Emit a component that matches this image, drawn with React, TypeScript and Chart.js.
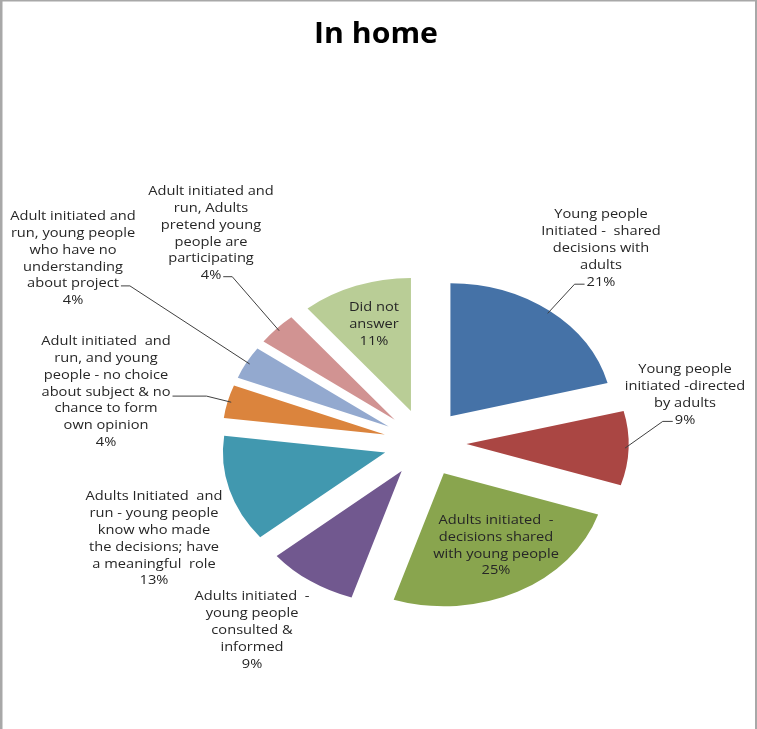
import React, { useEffect, useRef } from 'react';
import { Chart, registerables } from 'chart.js';

Chart.register(...registerables);

// ---- data ----
const title = 'In home';
const categories: string[][] = [
  ['Young people', 'Initiated -  shared', 'decisions with', 'adults'],
  ['Young people', 'initiated -directed', 'by adults'],
  ['Adults initiated  -', 'decisions shared', 'with young people'],
  ['Adults initiated  -', 'young people', 'consulted &', 'informed'],
  ['Adults Initiated  and', 'run - young people', 'know who made', 'the decisions; have', 'a meaningful  role'],
  ['Adult initiated  and', 'run, and young', 'people - no choice', 'about subject & no', 'chance to form', 'own opinion'],
  ['Adult initiated and', 'run, young people', 'who have no', 'understanding', 'about project'],
  ['Adult initiated and', 'run, Adults', 'pretend young', 'people are', 'participating'],
  ['Did not', 'answer'],
];
const values: number[] = [21, 9, 25, 9, 13, 4, 4, 4, 11];

// ---- styles / layout ----
const colors = ['#4572A7', '#AA4643', '#89A54E', '#71588F', '#4198AF', '#DB843D', '#93A9CF', '#D19392', '#B9CD96'];
const W = 757;
const H = 729;
const STRETCH = 1.22; // horizontal stretch of the pie (picture is wider than tall)
const TEXT_STRETCH = 1.22;
const EXPLODE = 34;
const RADIUS = 133;
const LINE_H = 16.8;
const FONT = "12px 'Open Sans'";

type Leader = { line: number; side: 'left' | 'right'; len: number; dy: number };
type LabelPos = { x: number; y: number; leader?: Leader };
const labelLayout: LabelPos[] = [
  { x: 601, y: 215, leader: { line: 4, side: 'left', len: 10, dy: 2 } },
  { x: 685, y: 370, leader: { line: 3, side: 'left', len: 10, dy: 1 } },
  { x: 496, y: 520.5 },
  { x: 252, y: 597 },
  { x: 154, y: 497 },
  { x: 106, y: 341.7, leader: { line: 3, side: 'right', len: 34, dy: 4 } },
  { x: 73, y: 216.7, leader: { line: 4, side: 'right', len: 9, dy: 2 } },
  { x: 211, y: 191.7, leader: { line: 5, side: 'right', len: 9, dy: 1 } },
  { x: 374, y: 308 },
];

function drawLabels(chart: any) {
  const { ctx, chartArea } = chart;
  const cx = (chartArea.left + chartArea.right) / 2;
  const arcs = chart.getDatasetMeta(0).data;
  ctx.save();
  ctx.font = FONT;
  ctx.fillStyle = '#262626';
  ctx.strokeStyle = '#404040';
  ctx.lineWidth = 1;
  ctx.textAlign = 'center';
  ctx.textBaseline = 'middle';
  arcs.forEach((arc: any, i: number) => {
    const L = labelLayout[i];
    const lines = [...categories[i], `${values[i]}%`];
    lines.forEach((t, k) => {
      ctx.save();
      ctx.translate(L.x, L.y + k * LINE_H);
      ctx.scale(TEXT_STRETCH, 1);
      ctx.fillText(t, 0, 0);
      ctx.restore();
    });
    if (L.leader) {
      const { line, side, len, dy } = L.leader;
      const w = ctx.measureText(lines[line]).width * TEXT_STRETCH;
      const y = L.y + line * LINE_H + dy;
      const sx = side === 'left' ? L.x - w / 2 - 2 : L.x + w / 2 + 2;
      const ex = side === 'left' ? sx - len : sx + len;
      const mid = (arc.startAngle + arc.endAngle) / 2;
      const px = arc.x + (arc.outerRadius - 3) * Math.cos(mid);
      const py = arc.y + (arc.outerRadius - 3) * Math.sin(mid);
      const X = cx + (px - cx) * STRETCH;
      ctx.beginPath();
      ctx.moveTo(sx, y);
      ctx.lineTo(ex, y);
      ctx.lineTo(X, py);
      ctx.stroke();
    }
  });
  ctx.restore();
}

const piePlugin = {
  id: 'explodedStretchedPie',
  beforeDraw(chart: any) {
    const { ctx } = chart;
    ctx.save();
    ctx.fillStyle = '#ffffff';
    ctx.fillRect(0, 0, W, H);
    ctx.fillStyle = '#a8a8a8';
    ctx.fillRect(0, 0, 2.5, H);
    ctx.fillRect(W - 2, 0, 2, H);
    ctx.fillRect(0, 0, W, 1.5);
    ctx.restore();
  },
  afterDatasetsUpdate(chart: any) {
    const meta = chart.getDatasetMeta(0);
    meta.data.forEach((arc: any) => {
      const mid = (arc.startAngle + arc.endAngle) / 2;
      arc.x += EXPLODE * Math.cos(mid);
      arc.y += EXPLODE * Math.sin(mid);
    });
  },
  beforeDatasetsDraw(chart: any) {
    const { ctx, chartArea } = chart;
    const cx = (chartArea.left + chartArea.right) / 2;
    ctx.save();
    ctx.translate(cx, 0);
    ctx.scale(STRETCH, 1);
    ctx.translate(-cx, 0);
  },
  afterDatasetsDraw(chart: any) {
    chart.ctx.restore();
    drawLabels(chart);
  },
  afterDraw(chart: any) {
    const { ctx } = chart;
    ctx.save();
    ctx.font = "bold 28px 'Open Sans'";
    ctx.fillStyle = '#000000';
    ctx.textAlign = 'center';
    ctx.textBaseline = 'alphabetic';
    ctx.translate(376, 43);
    ctx.scale(1.08, 1);
    ctx.fillText(title, 0, 0);
    ctx.restore();
  },
};

export default function App() {
  const ref = useRef<HTMLCanvasElement | null>(null);
  useEffect(() => {
    if (!ref.current) return;
    const chart = new Chart(ref.current, {
      type: 'pie',
      data: {
        labels: categories.map((c) => c.join(' ')),
        datasets: [
          {
            data: values,
            backgroundColor: colors,
            borderWidth: 0,
            radius: RADIUS,
          } as any,
        ],
      },
      options: {
        responsive: false,
        animation: false,
        events: [],
        layout: { padding: { top: 157, left: 93, right: 0, bottom: 0 } },
        plugins: {
          legend: { display: false },
          tooltip: { enabled: false },
          title: { display: false },
        },
      },
      plugins: [piePlugin],
    });
    return () => chart.destroy();
  }, []);
  return (
    <div style={{ position: 'fixed', left: 0, top: 0, width: W, height: H, background: '#fff' }}>
      <canvas ref={ref} width={W} height={H} style={{ display: 'block' }} />
    </div>
  );
}
